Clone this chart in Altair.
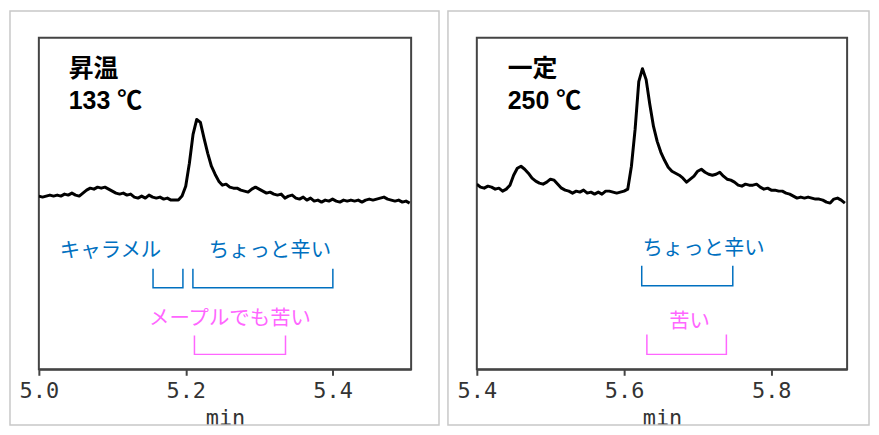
import altair as alt
import pandas as pd

# ---------------- data ----------------
# sampling grid of the chromatograms (min)
LEFT_T0, LEFT_DT = 5.0, 0.005
RIGHT_T0, RIGHT_DT = 5.4, 0.005

# detector signal (arbitrary units)
left_signal = [
    174, 173, 174, 175, 174, 175, 174, 176, 175, 177,
    175, 174, 177, 180, 182, 181, 183, 182, 183, 181,
    179, 177, 176, 177, 175, 176, 173, 172, 174, 172,
    175, 173, 172, 173, 171, 172, 170, 170, 170, 174,
    184, 207, 236, 251, 248, 232, 217, 204, 196, 189,
    185, 186, 183, 182, 182, 180, 179, 178, 181, 183,
    181, 179, 177, 178, 176, 175, 176, 172, 174, 175,
    172, 171, 173, 170, 172, 169, 170, 168, 170, 169,
    171, 169, 168, 170, 169, 170, 169, 170, 168, 170,
    171, 170, 171, 172, 173, 171, 170, 169, 170, 168,
    169, 167,
]
right_signal = [
    186, 183, 182, 184, 183, 181, 182, 179, 181, 185,
    195, 202, 204, 201, 197, 192, 189, 187, 186, 188,
    191, 190, 186, 182, 180, 179, 177, 179, 178, 180,
    177, 178, 176, 178, 176, 179, 179, 178, 177, 178,
    179, 181, 204, 241, 289, 302, 291, 266, 244, 229,
    218, 210, 203, 199, 197, 195, 192, 188, 191, 194,
    199, 201, 198, 196, 195, 196, 198, 194, 191, 190,
    188, 185, 184, 186, 185, 185, 186, 183, 181, 182,
    180, 180, 179, 179, 177, 176, 174, 172, 173, 172,
    173, 172, 171, 171, 170, 168, 167, 171, 172, 170,
    167,
]

left_domain = [5.0, 5.507]
right_domain = [5.4, 5.903]
left_ticks = [5.0, 5.2, 5.4]
right_ticks = [5.4, 5.6, 5.8]
x_title = "min"

left_header = ["昇温", "133 ℃"]
right_header = ["一定", "250 ℃"]
left_header_t = 5.0407
right_header_t = 5.442
header_y = [302, 270]

left_labels = ["キャラメル", "ちょっと辛い", "メープルでも苦い"]
left_kind = ["blue", "blue", "pink"]
left_label_t = [5.0976, 5.3146, 5.2603]
left_label_y = [119, 119, 51]
left_br_start = [5.1555, 5.2098, 5.2119]
left_br_end = [5.1962, 5.4004, 5.3359]
left_br_top = [101, 101, 34]
left_br_bottom = [82, 82, 15]

right_labels = ["ちょっと辛い", "苦い"]
right_kind = ["blue", "pink"]
right_label_t = [5.708, 5.689]
right_label_y = [121, 47]
right_br_start = [5.624, 5.631]
right_br_end = [5.7477, 5.739]
right_br_top = [104, 35]
right_br_bottom = [84, 15]

kind_domain = ["blue", "pink"]
kind_colors = ["#0070C0", "#FF66FF"]

CJK = "Noto Sans CJK JP"


def panel(t0, dt, signal, domain, ticks, header, header_t,
          labels, kind, lt, ly, bs, be, btop, bbot, width, frame_right, height=333):
    trace = pd.DataFrame({
        "t": [round(t0 + i * dt, 4) for i in range(len(signal))],
        "v": signal,
    })
    xs = alt.Scale(domain=domain, nice=False, zero=False)
    ys = alt.Scale(domain=[0, 333], nice=False, zero=False)
    xaxis = alt.Axis(values=ticks, format=".1f", title=x_title)

    line = alt.Chart(trace).mark_line(
        color="black", strokeWidth=3, strokeJoin="round", clip=True
    ).encode(
        x=alt.X("t:Q", scale=xs, axis=xaxis),
        y=alt.Y("v:Q", scale=ys, axis=None),
    )

    rows = []
    for i in range(len(labels)):
        pts = [(bs[i], btop[i]), (bs[i], bbot[i]), (be[i], bbot[i]), (be[i], btop[i])]
        for j, (tt, vv) in enumerate(pts):
            rows.append({"id": i, "o": j, "t": tt, "v": vv, "kind": kind[i]})
    br = alt.Chart(pd.DataFrame(rows)).mark_line(strokeWidth=1.5).encode(
        x=alt.X("t:Q", scale=xs),
        y=alt.Y("v:Q", scale=ys),
        detail="id:N",
        order="o:Q",
        color=alt.Color("kind:N", scale=alt.Scale(domain=kind_domain, range=kind_colors), legend=None),
    )

    lab_df = pd.DataFrame({"t": lt, "v": ly, "label": labels, "kind": kind})
    lab = alt.Chart(lab_df).mark_text(
        font=CJK, fontSize=20.5, align="center", baseline="middle"
    ).encode(
        x=alt.X("t:Q", scale=xs),
        y=alt.Y("v:Q", scale=ys),
        text="label:N",
        color=alt.Color("kind:N", scale=alt.Scale(domain=kind_domain, range=kind_colors), legend=None),
    )

    h1 = alt.Chart(pd.DataFrame({"t": [header_t], "v": [header_y[0]], "s": [header[0]]})).mark_text(
        font=CJK, fontSize=25, fontWeight="bold", align="left", baseline="middle", color="black"
    ).encode(x=alt.X("t:Q", scale=xs), y=alt.Y("v:Q", scale=ys), text="s:N")
    h2 = alt.Chart(pd.DataFrame({"t": [header_t], "v": [header_y[1]], "s": [header[1]]})).mark_text(
        font="Liberation Sans, " + CJK, fontSize=25, fontWeight="bold", align="left",
        baseline="middle", color="black"
    ).encode(x=alt.X("t:Q", scale=xs), y=alt.Y("v:Q", scale=ys), text="s:N")

    frame = alt.Chart(pd.DataFrame({"k": [0]})).mark_rect(
        filled=False, stroke="#c8c8c8", strokeWidth=1.5
    ).encode(
        x=alt.value(-29), x2=alt.value(width + frame_right),
        y=alt.value(-27), y2=alt.value(height + 56),
    )

    return alt.layer(frame, line, br, lab, h1, h2).properties(width=width, height=height)


left = panel(LEFT_T0, LEFT_DT, left_signal, left_domain, left_ticks, left_header, left_header_t,
             left_labels, left_kind, left_label_t, left_label_y,
             left_br_start, left_br_end, left_br_top, left_br_bottom, width=374, frame_right=28)
right = panel(RIGHT_T0, RIGHT_DT, right_signal, right_domain, right_ticks, right_header, right_header_t,
              right_labels, right_kind, right_label_t, right_label_y,
              right_br_start, right_br_end, right_br_top, right_br_bottom, width=372, frame_right=22)

chart = alt.hconcat(left, right, spacing=5, padding=0).configure_view(
    stroke="#444444", strokeWidth=2
).configure_axis(
    labelFont="DejaVu Sans Mono", labelFontSize=22, labelColor="#333333",
    titleFont="DejaVu Sans Mono", titleFontSize=22, titleFontWeight="normal", titleColor="#333333",
    domainColor="#444444", domainWidth=2, tickColor="#444444", tickWidth=2, tickSize=6,
    labelPadding=5, titlePadding=6, labelFlush=False, grid=False,
)

chart.save("out.html", embed_options={"renderer": "svg", "actions": False})
